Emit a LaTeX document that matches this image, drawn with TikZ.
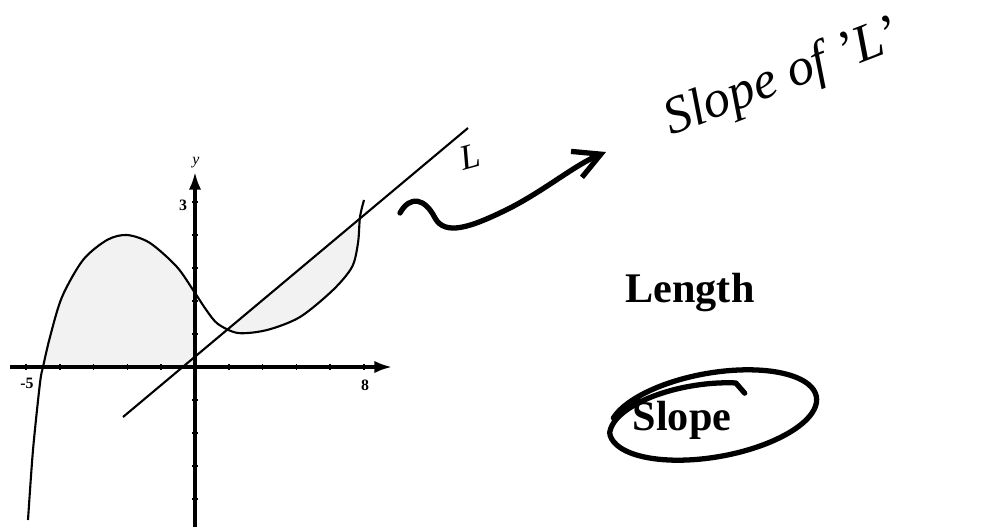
\documentclass[tikz,border=0pt]{standalone}
\usepackage{fontspec}
\setmainfont{Liberation Serif}
\usetikzlibrary{arrows.meta,positioning}

\begin{document}
\begin{tikzpicture}[x=0.01cm,y=-0.01cm,
  graph/.style={line width=0.6pt},
  axis/.style={line width=0.9pt,-{Latex[length=5pt,width=3.5pt]}},
  pen/.style={line width=1.5pt,line cap=round,line join=round},
  hand/.style={font=\fontsize{15}{15}\selectfont\itshape},
  lbl/.style={font=\fontsize{4.5}{4.5}\selectfont\bfseries,inner sep=0pt},
  word/.style={font=\fontsize{12}{12}\selectfont\bfseries,inner sep=0pt}]
\useasboundingbox (0,0) rectangle (991,527);

% shaded regions
\fill[gray!10] plot[smooth] coordinates {(43,367) (50,337) (62,297) (83,260) (107,240) (127,235) (150,243) (177,267) (195,293)} -- (195,367) -- cycle;
\fill[gray!10] (228,329) -- (359,220) -- plot[smooth] coordinates {(359,220) (358,243) (352,267) (333,290) (300,317) (267,330) (238,333) (228,330)} -- cycle;

% axes and ticks
\draw[axis] (10,367) -- (392,367);
\draw[axis] (195,527) -- (195,172);
\foreach \t in {-5,...,5}
  \draw[line width=0.5pt] (195+\t*33.8,364) -- (195+\t*33.8,370);
\foreach \t in {-5,...,4}
  \draw[line width=0.5pt] (192,367+\t*33) -- (198,367+\t*33);
\node[lbl] (xmin) at (27,383) {-5};
\node[lbl] (xmax) at (365,385) {8};
\node[lbl] (ytick) at (183,205) {3};
\node[lbl,font=\fontsize{4.5}{4.5}\selectfont\itshape] (ylab) at (196,163) {y};

% graph and line L
\draw[graph] plot[smooth] coordinates {(28,520) (33,450) (40,383) (43,367) (50,337) (62,297) (83,260) (107,240) (127,235) (150,243) (177,267) (195,293) (207,311) (218,324) (238,333) (267,330) (300,317) (333,290) (352,267) (358,243) (360,217) (364,200)};
\draw[graph] (123,417) -- (468,128);

% handwriting
\node[hand,font=\fontsize{10}{10}\selectfont\itshape,rotate=15] (lineL) at (470,157) {L};
\coordinate (squigStart) at (400,213);
\coordinate (arrowTip) at (606,152);
\draw[pen,-{Straight Barb[length=7.5pt,width=8pt]}] (squigStart) .. controls (410,195) and (425,198) .. (435,218)
  .. controls (445,236) and (470,228) .. (510,208) .. controls (545,190) and (575,165) .. (arrowTip);
\node[hand,rotate=21,anchor=base west] (slopeNote) at (660,140) {Slope of 'L'};

% printed words
\node[word] (length) at (690,293) {Length};
\node[word] (slope) at (682,420) {Slope};
\begin{scope}[shift={(713,415)},rotate=10]
\draw[pen] (35,-16) -- plot[domain=290:-160,samples=100,smooth] ({105*(1-0.22*max(0,(\x-180)/110))*cos(\x)},{42*(1-0.3*max(0,(\x-180)/110))*sin(\x)});
\end{scope}
\end{tikzpicture}
\end{document}
